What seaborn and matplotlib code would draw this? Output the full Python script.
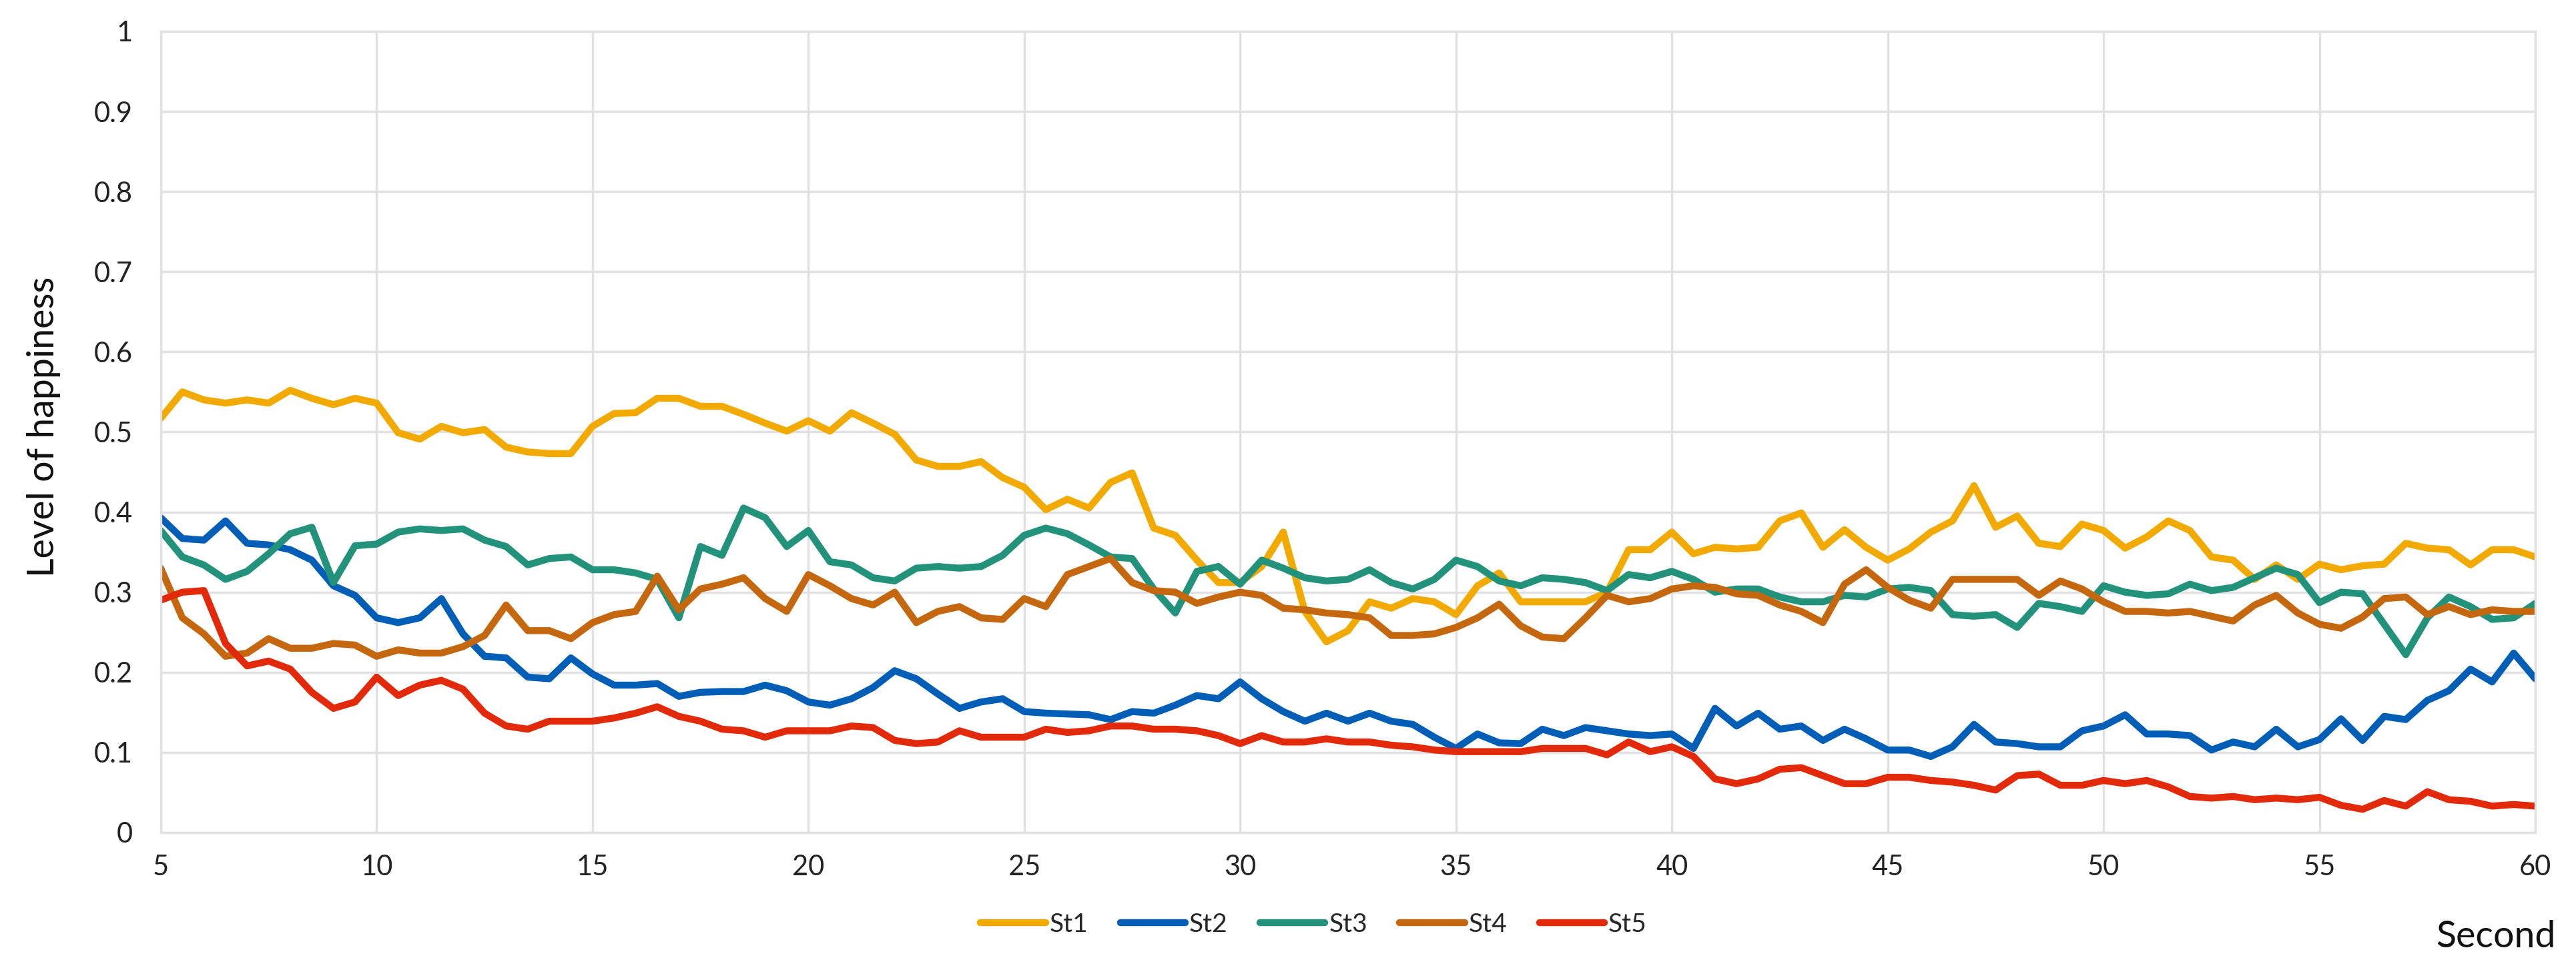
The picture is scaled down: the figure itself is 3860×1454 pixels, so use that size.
import numpy as np
import pandas as pd
import matplotlib
matplotlib.use("Agg")
import matplotlib.pyplot as plt
import seaborn as sns

# ---------------- data ----------------
seconds = np.arange(5.0, 60.01, 0.5)
series_names = ["St1", "St2", "St3", "St4", "St5"]

st1 = [0.517, 0.550, 0.540, 0.536, 0.540, 0.536, 0.552, 0.542, 0.534, 0.542,
       0.536, 0.499, 0.491, 0.507, 0.499, 0.503, 0.481, 0.475, 0.473, 0.473,
       0.507, 0.523, 0.524, 0.542, 0.542, 0.532, 0.532, 0.522, 0.511, 0.501,
       0.514, 0.501, 0.524, 0.511, 0.497, 0.465, 0.457, 0.457, 0.463, 0.443,
       0.431, 0.403, 0.416, 0.405, 0.437, 0.449, 0.380, 0.371, 0.340, 0.312,
       0.312, 0.332, 0.375, 0.276, 0.238, 0.252, 0.288, 0.280, 0.292, 0.288,
       0.272, 0.308, 0.324, 0.288, 0.288, 0.288, 0.288, 0.300, 0.353, 0.353,
       0.375, 0.348, 0.356, 0.354, 0.356, 0.389, 0.399, 0.356, 0.378, 0.356,
       0.340, 0.354, 0.375, 0.389, 0.433, 0.381, 0.395, 0.361, 0.357, 0.385,
       0.377, 0.355, 0.369, 0.389, 0.377, 0.344, 0.340, 0.316, 0.334, 0.316,
       0.335, 0.328, 0.333, 0.335, 0.361, 0.355, 0.353, 0.334, 0.353, 0.353,
       0.344]

st2 = [0.393, 0.367, 0.365, 0.389, 0.361, 0.359, 0.353, 0.340, 0.308, 0.296,
       0.268, 0.262, 0.268, 0.292, 0.248, 0.220, 0.218, 0.194, 0.192, 0.218,
       0.198, 0.184, 0.184, 0.186, 0.170, 0.175, 0.176, 0.176, 0.184, 0.177,
       0.163, 0.159, 0.167, 0.181, 0.202, 0.192, 0.173, 0.155, 0.163, 0.167,
       0.151, 0.149, 0.148, 0.147, 0.141, 0.151, 0.149, 0.159, 0.171, 0.167,
       0.188, 0.167, 0.151, 0.139, 0.149, 0.139, 0.149, 0.139, 0.135, 0.119,
       0.105, 0.123, 0.112, 0.111, 0.129, 0.121, 0.131, 0.127, 0.123, 0.121,
       0.123, 0.105, 0.155, 0.133, 0.149, 0.129, 0.133, 0.115, 0.129, 0.117,
       0.103, 0.103, 0.095, 0.107, 0.135, 0.113, 0.111, 0.107, 0.107, 0.127,
       0.133, 0.147, 0.123, 0.123, 0.121, 0.103, 0.113, 0.107, 0.129, 0.107,
       0.116, 0.142, 0.115, 0.145, 0.141, 0.165, 0.177, 0.204, 0.188, 0.224,
       0.192]

st3 = [0.377, 0.344, 0.334, 0.316, 0.326, 0.348, 0.373, 0.381, 0.312, 0.358,
       0.360, 0.375, 0.379, 0.377, 0.379, 0.365, 0.357, 0.334, 0.342, 0.344,
       0.328, 0.328, 0.324, 0.316, 0.268, 0.357, 0.346, 0.405, 0.393, 0.357,
       0.377, 0.338, 0.334, 0.318, 0.314, 0.330, 0.332, 0.330, 0.332, 0.346,
       0.371, 0.380, 0.373, 0.359, 0.344, 0.342, 0.304, 0.274, 0.326, 0.332,
       0.310, 0.340, 0.330, 0.318, 0.314, 0.316, 0.328, 0.312, 0.304, 0.316,
       0.340, 0.332, 0.314, 0.308, 0.318, 0.316, 0.312, 0.302, 0.322, 0.318,
       0.326, 0.316, 0.300, 0.304, 0.304, 0.294, 0.288, 0.288, 0.296, 0.294,
       0.304, 0.306, 0.302, 0.272, 0.270, 0.272, 0.256, 0.286, 0.282, 0.276,
       0.308, 0.300, 0.296, 0.298, 0.310, 0.302, 0.306, 0.318, 0.330, 0.322,
       0.287, 0.300, 0.298, 0.260, 0.222, 0.268, 0.294, 0.282, 0.266, 0.268,
       0.286]

st4 = [0.330, 0.268, 0.248, 0.220, 0.224, 0.242, 0.230, 0.230, 0.236, 0.234,
       0.220, 0.228, 0.224, 0.224, 0.232, 0.246, 0.284, 0.252, 0.252, 0.242,
       0.262, 0.272, 0.276, 0.320, 0.278, 0.304, 0.310, 0.318, 0.292, 0.276,
       0.322, 0.308, 0.292, 0.284, 0.300, 0.262, 0.276, 0.282, 0.268, 0.266,
       0.292, 0.282, 0.322, 0.332, 0.342, 0.312, 0.302, 0.300, 0.286, 0.294,
       0.300, 0.296, 0.280, 0.278, 0.274, 0.272, 0.268, 0.246, 0.246, 0.248,
       0.256, 0.268, 0.285, 0.258, 0.244, 0.242, 0.268, 0.296, 0.288, 0.292,
       0.304, 0.308, 0.306, 0.298, 0.296, 0.284, 0.276, 0.262, 0.310, 0.328,
       0.306, 0.290, 0.280, 0.316, 0.316, 0.316, 0.316, 0.296, 0.314, 0.304,
       0.288, 0.276, 0.276, 0.274, 0.276, 0.270, 0.264, 0.284, 0.296, 0.274,
       0.260, 0.255, 0.269, 0.292, 0.294, 0.272, 0.282, 0.272, 0.278, 0.276,
       0.276]

st5 = [0.290, 0.300, 0.302, 0.236, 0.208, 0.214, 0.204, 0.175, 0.155, 0.163,
       0.194, 0.171, 0.184, 0.190, 0.179, 0.149, 0.133, 0.129, 0.139, 0.139,
       0.139, 0.143, 0.149, 0.157, 0.145, 0.139, 0.129, 0.127, 0.119, 0.127,
       0.127, 0.127, 0.133, 0.131, 0.115, 0.111, 0.113, 0.127, 0.119, 0.119,
       0.119, 0.129, 0.125, 0.127, 0.133, 0.133, 0.129, 0.129, 0.127, 0.121,
       0.111, 0.121, 0.113, 0.113, 0.117, 0.113, 0.113, 0.109, 0.107, 0.103,
       0.101, 0.101, 0.101, 0.101, 0.105, 0.105, 0.105, 0.097, 0.113, 0.101,
       0.107, 0.095, 0.067, 0.061, 0.067, 0.079, 0.081, 0.071, 0.061, 0.061,
       0.069, 0.069, 0.065, 0.063, 0.059, 0.053, 0.071, 0.073, 0.059, 0.059,
       0.065, 0.061, 0.065, 0.057, 0.045, 0.043, 0.045, 0.041, 0.043, 0.041,
       0.044, 0.034, 0.029, 0.040, 0.033, 0.051, 0.041, 0.039, 0.033, 0.035,
       0.033]

x_ticks = [5, 10, 15, 20, 25, 30, 35, 40, 45, 50, 55, 60]
y_ticks = [0, 0.1, 0.2, 0.3, 0.4, 0.5, 0.6, 0.7, 0.8, 0.9, 1]
y_tick_labels = ["0", "0.1", "0.2", "0.3", "0.4", "0.5", "0.6", "0.7", "0.8", "0.9", "1"]

colors = {"St1": "#F2AA00", "St2": "#005EB6", "St3": "#22937A",
          "St4": "#C5670E", "St5": "#E22A0B"}

# ---------------- figure ----------------
sns.set_theme(style="white")
plt.rcParams["font.family"] = ["Lato", "DejaVu Sans"]

df = pd.concat([
    pd.DataFrame({"Second": seconds, "value": vals, "series": name})
    for name, vals in zip(series_names, [st1, st2, st3, st4, st5])
], ignore_index=True)

fig = plt.figure(figsize=(38.6, 14.54), dpi=100)
ax = fig.add_axes([0.0624, 0.1417, 0.9218, 0.8260])

sns.lineplot(data=df, x="Second", y="value", hue="series",
             hue_order=series_names, palette=colors, estimator=None,
             sort=False, linewidth=7.5, legend=False, ax=ax,
             solid_joinstyle="round", solid_capstyle="round")

ax.set_xlim(5, 60)
ax.set_ylim(0, 1)
ax.set_xticks(x_ticks)
ax.set_xticklabels([str(t) for t in x_ticks])
ax.set_yticks(y_ticks)
ax.set_yticklabels(y_tick_labels)

grid_color = "#E0E0E5"
ax.grid(True, color=grid_color, linewidth=2.4)
ax.set_axisbelow(True)
for s in ax.spines.values():
    s.set_color(grid_color)
    s.set_linewidth(2.4)

ax.tick_params(axis="both", length=0, labelsize=30, colors="#222222")
ax.tick_params(axis="y", pad=30)
ax.tick_params(axis="x", pad=24)

ax.set_xlabel("")
ax.set_ylabel("")
fig.text(0.017, 0.56, "Level of happiness", rotation=90, ha="center",
         va="center", fontsize=40, color="#111111")
fig.text(0.992, 0.034, "Second", ha="right", va="center", fontsize=40,
         color="#111111")

handles = ax.get_lines()[:5]
fig.legend(handles=handles, labels=series_names, loc="center",
           bbox_to_anchor=(0.51, 0.047), ncol=5, frameon=False, fontsize=28,
           handlelength=2.5, handletextpad=0.15, columnspacing=1.25)

fig.savefig("out.png", dpi=100)
